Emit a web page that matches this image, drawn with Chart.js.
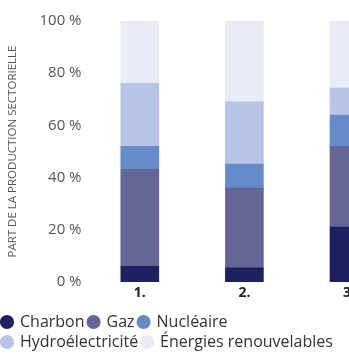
<!DOCTYPE html>
<html>
<head>
<meta charset="utf-8">
<script src="https://cdn.jsdelivr.net/npm/chart.js@4"></script>
<style>
  html, body { margin: 0; padding: 0; background: #fff; overflow: hidden; }
  #wrap { width: 349px; height: 354px; }
</style>
</head>
<body>
<div id="wrap"><canvas id="chart"></canvas></div>
<script>
const categories = ['1.', '2.', '3.'];
const charbon = [6, 5.4, 21];
const gaz = [37.2, 30.6, 31];
const nucleaire = [8.8, 9.2, 12];
const hydro = [24.1, 23.8, 10.3];
const renouvelables = [23.9, 31, 25.7];
const yTicks = [0, 20, 40, 60, 80, 100];

const series = [
    {label: 'Charbon', values: charbon, color: '#1e2060'},
    {label: 'Gaz', values: gaz, color: '#656695'},
    {label: 'Nucléaire', values: nucleaire, color: '#658cc8'},
    {label: 'Hydroélectricité', values: hydro, color: '#b7c4e6'},
    {label: 'Énergies renouvelables', values: renouvelables, color: '#e9ecf7'}
];

Chart.defaults.font.family = "'Open Sans', sans-serif";

new Chart(document.getElementById('chart'), {
    type: 'bar',
    data: {
        datasets: series.map(s => ({
            label: s.label,
            data: s.values.map((v, i) => ({x: i + 1, y: v})),
            backgroundColor: s.color,
            borderWidth: 0,
            barThickness: 38
        }))
    },
    options: {
        responsive: true,
        maintainAspectRatio: false,
        animation: false,
        layout: {padding: {top: 21, left: -2, right: 0, bottom: -6}},
        scales: {
            x: {
                type: 'linear',
                stacked: true,
                offset: false,
                min: 0.5,
                max: categories.length,
                grid: {display: false, drawTicks: false},
                border: {display: false},
                ticks: {
                    stepSize: 1,
                    includeBounds: false,
                    padding: 3,
                    color: '#222',
                    font: {size: 14, weight: 'bold'},
                    callback: v => categories[v - 1] || ''
                },
                afterFit: scale => {
                    scale.height = 28;
                    scale.paddingRight = 0;
                    scale.paddingLeft = 0;
                }
            },
            y: {
                stacked: true,
                min: 0,
                max: 100,
                grid: {display: false, drawTicks: false},
                border: {display: false},
                afterBuildTicks: scale => {
                    scale.ticks = yTicks.map(v => ({value: v}));
                },
                ticks: {
                    padding: 6,
                    color: '#555',
                    font: {size: 15},
                    callback: v => v + ' %'
                },
                title: {
                    display: true,
                    text: 'PART DE LA PRODUCTION SECTORIELLE',
                    color: '#555',
                    font: {size: 11.5},
                    padding: {top: 8, bottom: 0}
                },
                afterFit: scale => {
                    scale.width = 89.5;
                }
            }
        },
        plugins: {
            legend: {
                position: 'bottom',
                align: 'start',
                labels: {
                    usePointStyle: true,
                    pointStyle: 'circle',
                    boxWidth: 10,
                    boxHeight: 10,
                    padding: 4,
                    color: '#333',
                    font: {size: 16}
                }
            },
            tooltip: {enabled: false}
        }
    }
});
</script>
</body>
</html>
